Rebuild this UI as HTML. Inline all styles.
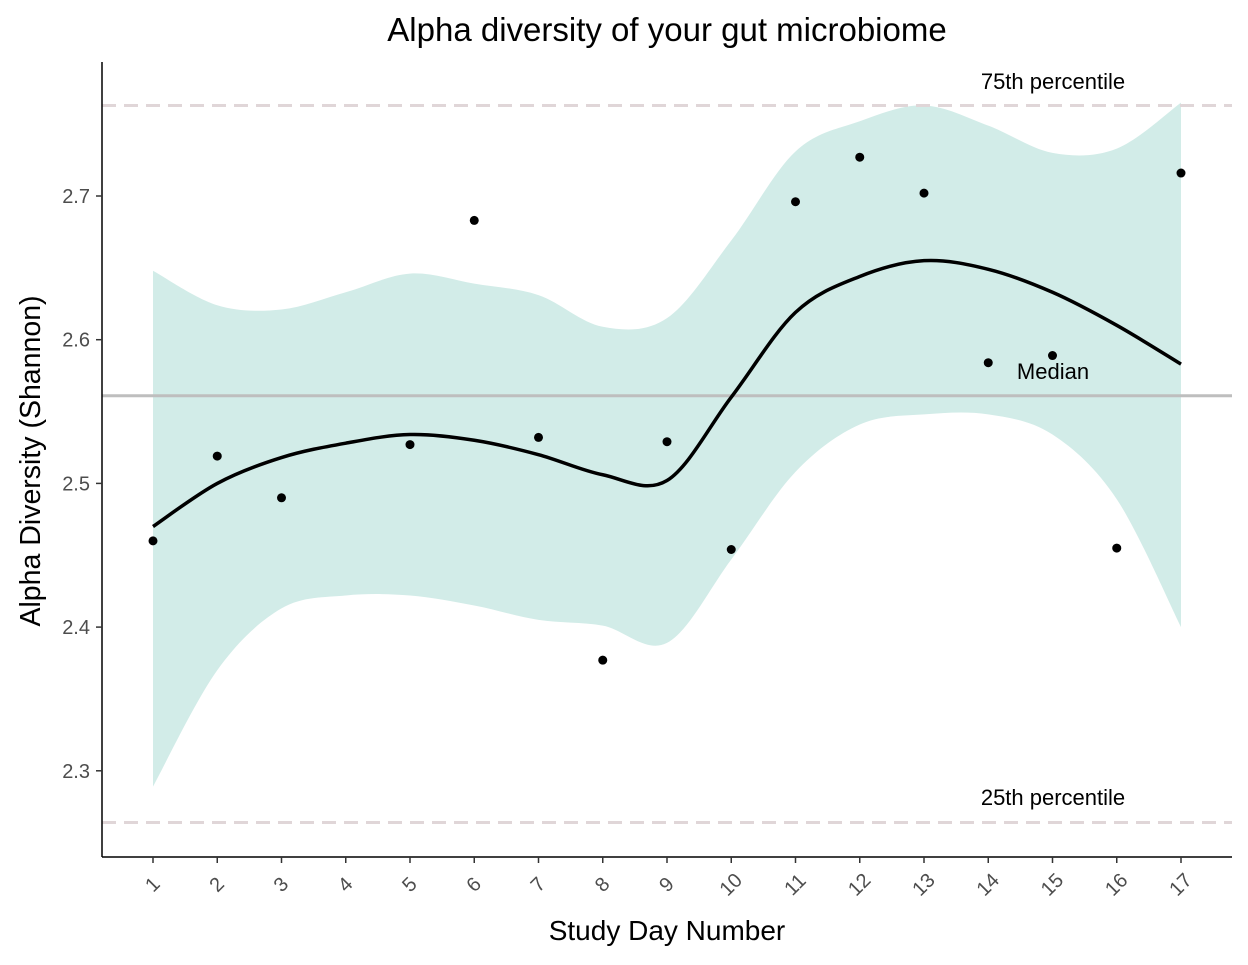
<!DOCTYPE html>
<html><head><meta charset="utf-8"><style>
body{margin:0;background:#fff;font-family:"Liberation Sans",sans-serif}
</style></head><body>
<svg id="chart" width="1248" height="960" xmlns="http://www.w3.org/2000/svg"></svg>
<script>
const days=[1,2,3,4,5,6,7,8,9,10,11,12,13,14,15,16,17];
const pointDays=[1,2,3,5,6,7,8,9,10,11,12,13,14,15,16,17];
const pointValues=[2.460,2.519,2.490,2.527,2.683,2.532,2.377,2.529,2.454,2.696,2.727,2.702,2.584,2.589,2.455,2.716];
const smoothValues=[2.470,2.500,2.518,2.528,2.534,2.530,2.520,2.506,2.502,2.560,2.619,2.644,2.655,2.649,2.633,2.610,2.583];
const upperValues=[2.648,2.624,2.621,2.633,2.646,2.639,2.631,2.609,2.615,2.669,2.731,2.752,2.763,2.749,2.730,2.733,2.765];
const lowerValues=[2.289,2.370,2.413,2.422,2.422,2.415,2.405,2.401,2.389,2.447,2.508,2.541,2.548,2.548,2.534,2.489,2.400];
const yTicks=[2.3,2.4,2.5,2.6,2.7];
const medianValue=2.561, p75=2.763, p25=2.264;

const NS="http://www.w3.org/2000/svg", svg=document.getElementById('chart');
const X=d=>153+(d-1)*64.25, Y=v=>196+(2.7-v)*1437;
function el(t,a,p){const e=document.createElementNS(NS,t);for(const k in a)e.setAttribute(k,a[k]);(p||svg).appendChild(e);return e;}
function smooth(pts){let d=`M${pts[0][0]},${pts[0][1]}`;for(let i=0;i<pts.length-1;i++){const p0=pts[i-1]||pts[i],p1=pts[i],p2=pts[i+1],p3=pts[i+2]||p2;d+=` C${p1[0]+(p2[0]-p0[0])/6},${p1[1]+(p2[1]-p0[1])/6} ${p2[0]-(p3[0]-p1[0])/6},${p2[1]-(p3[1]-p1[1])/6} ${p2[0]},${p2[1]}`;}return d;}

const up=days.map((d,i)=>[X(d),Y(upperValues[i])]), lo=days.map((d,i)=>[X(d),Y(lowerValues[i])]).reverse();
const los=smooth(lo);
let bd=smooth(up)+' L'+lo[0][0]+','+lo[0][1]+los.slice(los.indexOf('C')-1)+' Z';
let band=el('path',{d:bd,fill:'#d2ece8'});


let l;
l=el('line',{x1:102,x2:1232,y1:Y(p75),y2:Y(p75),stroke:'#e0d6d8','stroke-width':3,'stroke-dasharray':'14,8'});

l=el('line',{x1:102,x2:1232,y1:Y(p25),y2:Y(p25),stroke:'#e0d6d8','stroke-width':3,'stroke-dasharray':'14,8'});

l=el('line',{x1:102,x2:1232,y1:Y(medianValue),y2:Y(medianValue),stroke:'#bebebe','stroke-width':3});


let sm=el('path',{d:smooth(days.map((d,i)=>[X(d),Y(smoothValues[i])])),fill:'none',stroke:'#000','stroke-width':3.5});


pointDays.forEach((d,i)=>{const c=el('circle',{cx:X(d),cy:Y(pointValues[i]),r:4.5,fill:'#000'});

});

l=el('line',{x1:102,x2:102,y1:62,y2:857,stroke:'#000','stroke-width':1.5});

l=el('line',{x1:102,x2:1232,y1:857,y2:857,stroke:'#000','stroke-width':1.5});


yTicks.forEach(v=>{el('line',{x1:96,x2:102,y1:Y(v),y2:Y(v),stroke:'#333','stroke-width':1.5});
const t=el('text',{x:90,y:Y(v)+7,'text-anchor':'end','font-size':20,fill:'#4d4d4d'});t.textContent=v.toFixed(1);

});
days.forEach(d=>{el('line',{x1:X(d),x2:X(d),y1:857,y2:863,stroke:'#333','stroke-width':1.5});
const t=el('text',{x:X(d),y:885,'text-anchor':'middle','dominant-baseline':'central','font-size':20,fill:'#4d4d4d',transform:`rotate(-45 ${X(d)} 885)`});t.textContent=d;

});

function txt(s,a,name){const t=el('text',a);t.textContent=s;}
txt('Alpha diversity of your gut microbiome',{x:667,y:41,'text-anchor':'middle','font-size':33,fill:'#000'},'chart-title');
txt('Study Day Number',{x:667,y:940,'text-anchor':'middle','font-size':28,fill:'#000'},'x-axis-title');
txt('Alpha Diversity (Shannon)',{x:40,y:461,'text-anchor':'middle','font-size':28.5,fill:'#000',transform:'rotate(-90 40 461)'},'y-axis-title');
txt('75th percentile',{x:1053,y:89,'text-anchor':'middle','font-size':22,fill:'#000'},'75th-percentile-label');
txt('25th percentile',{x:1053,y:805,'text-anchor':'middle','font-size':22,fill:'#000'},'25th-percentile-label');
txt('Median',{x:1053,y:379,'text-anchor':'middle','font-size':22,fill:'#000'},'median-label');
</script>
</body></html>
